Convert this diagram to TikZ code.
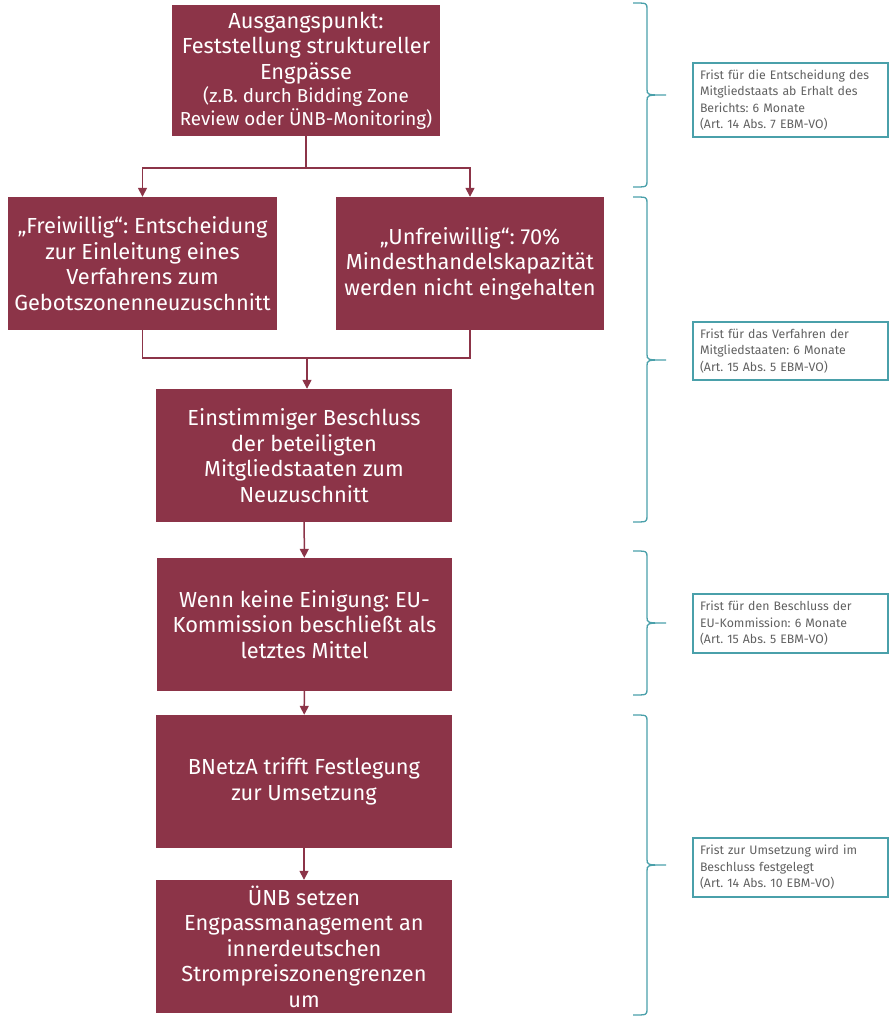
\documentclass[tikz,border=0pt]{standalone}
\usepackage{fontspec}
\setmainfont{Fira Sans}
\frenchspacing
\usetikzlibrary{arrows.meta}
\definecolor{maroon}{HTML}{8C3448}
\definecolor{teal}{HTML}{4AA0AA}
\definecolor{infotext}{HTML}{606060}
\newcommand\mybrace[3]{%
  \draw[bracestyle] (633,#1) .. controls (647,#1) .. (647,#1+6) -- (647,#2-6)
    .. controls (647,#2) .. (666,#2) .. controls (647,#2) .. (647,#2+6)
    -- (647,#3-6) .. controls (647,#3) .. (633,#3);}
\begin{document}
\begin{tikzpicture}[x=1pt,y=-1pt,
  stepbox/.style={draw=none,fill=maroon,text=white,align=center,inner sep=0pt,
    font=\fontsize{21.8}{25.5}\selectfont},
  infobox/.style={draw=teal,line width=1.5pt,text=infotext,align=left,inner sep=0pt,
    minimum width=195pt,text width=181pt,font=\fontsize{12.3}{16.5}\selectfont},
  conn/.style={maroon,line width=1.5pt},
  arr/.style={conn,-{Triangle[width=9pt,length=9pt]}},
  bracestyle/.style={teal,line width=1.3pt}]
\useasboundingbox (0,0) rectangle (890,1024);
\node[stepbox,minimum width=268pt,minimum height=131pt] (b1) at (306,70.5)
  {Ausgangspunkt:\\Feststellung struktureller\\Engpässe\\[-2pt]{\fontsize{18.8}{22.5}\selectfont (z.B. durch Bidding Zone}\\[-3pt]{\fontsize{18.8}{22.5}\selectfont Review oder ÜNB-Monitoring)}};
\node[stepbox,minimum width=269pt,minimum height=133pt] (b2) at (142.5,263.5)
  {„Freiwillig“: Entscheidung\\zur Einleitung eines\\Verfahrens zum\\Gebotszonenneuzuschnitt};
\node[stepbox,minimum width=268pt,minimum height=133pt] (b3) at (470,263.5)
  {„Unfreiwillig“: 70\%\\Mindesthandelskapazität\\werden nicht eingehalten};
\node[stepbox,minimum width=296pt,minimum height=133pt] (b4) at (304,455.5)
  {Einstimmiger Beschluss\\der beteiligten\\Mitgliedstaaten zum\\Neuzuschnitt};
\node[stepbox,minimum width=295pt,minimum height=133pt] (b5) at (304.5,624.5)
  {Wenn keine Einigung: EU-\\Kommission beschließt als\\letztes Mittel};
\node[stepbox,minimum width=296pt,minimum height=133pt] (b6) at (304,781.5)
  {BNetzA trifft Festlegung\\zur Umsetzung};
\node[stepbox,minimum width=296pt,minimum height=133pt] (b7) at (304,946.5)
  {ÜNB setzen\\Engpassmanagement an\\innerdeutschen\\Strompreiszonengrenzen\\um};
\coordinate (j1) at (306,168);
\coordinate (j2) at (307,358);
\draw[conn] (b1.south) -- (j1);
\draw[arr] (j1) -| (b2.north);
\draw[arr] (j1) -| (b3.north);
\draw[conn] (b2.south) |- (j2) -| (b3.south);
\draw[arr] (j2) -- (j2 |- b4.north);
\draw[arr] (b4) -- (b5);
\draw[arr] (b5) -- (b6);
\draw[arr] (b6) -- (b7);
\node[infobox,minimum height=74pt] (i1) at (790.5,100)
  {Frist für die Entscheidung des\\Mitgliedstaats ab Erhalt des\\Berichts: 6 Monate\\(Art. 14 Abs. 7 EBM-VO)};
\node[infobox,minimum height=58pt] (i2) at (790.5,351)
  {Frist für das Verfahren der\\Mitgliedstaaten: 6 Monate\\(Art. 15 Abs. 5 EBM-VO)};
\node[infobox,minimum height=59pt] (i3) at (790.5,623.5)
  {Frist für den Beschluss der\\EU-Kommission: 6 Monate\\(Art. 15 Abs. 5 EBM-VO)};
\node[infobox,minimum height=59pt] (i4) at (790.5,867.5)
  {Frist zur Umsetzung wird im\\Beschluss festgelegt\\(Art. 14 Abs. 10 EBM-VO)};
\mybrace{3}{95}{187}
\mybrace{197}{360}{522}
\mybrace{551}{623}{695}
\mybrace{715}{865}{1015}
\end{tikzpicture}
\end{document}
